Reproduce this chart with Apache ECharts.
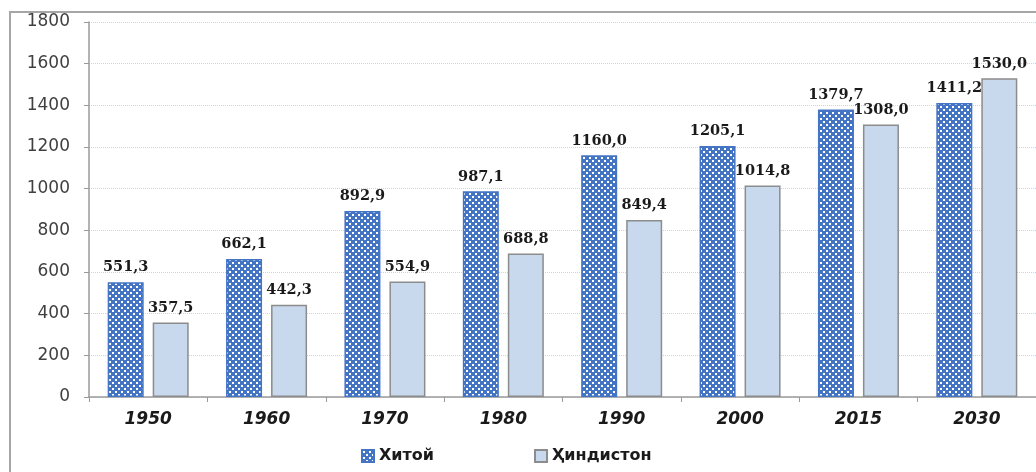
<!DOCTYPE html>
<html><head><meta charset="utf-8">
<script src="https://cdn.jsdelivr.net/npm/echarts@6/dist/echarts.min.js"></script>
<style>html,body{margin:0;padding:0;background:#fff}#c{width:1036px;height:472px}</style>
</head><body><div id="c"></div>
<script>
const categories = ['1950','1960','1970','1980','1990','2000','2015','2030'];
const china = [551.3, 662.1, 892.9, 987.1, 1160.0, 1205.1, 1379.7, 1411.2];
const india = [357.5, 442.3, 554.9, 688.8, 849.4, 1014.8, 1308.0, 1530.0];
const seriesNames = ['Хитой', 'Ҳиндистон'];

const tile = document.createElement('canvas');
tile.width = 6; tile.height = 6;
const g = tile.getContext('2d');
g.fillStyle = '#4474c4'; g.fillRect(0,0,6,6);
g.fillStyle = '#ffffff';
g.fillRect(1,1,2,2); g.fillRect(4,4,2,2);

const fmt = p => p.value.toFixed(1).replace('.', ',');
const lbl = {show:true, position:'top', distance:7, formatter: fmt,
  fontFamily:'DejaVu Serif', fontWeight:'bold', fontSize:14.5, color:'#1a1a1a'};

const chart = echarts.init(document.getElementById('c'), null, {renderer:'canvas'});
chart.setOption({
  animation:false,
  graphic:[{type:'rect', shape:{x:10,y:12,width:1040,height:470}, style:{fill:'none', stroke:'#a6a6a6', lineWidth:2}, silent:true}],
  grid:{left:89, right:-7, top:22, bottom:75},
  legend:{bottom:3, left:356, itemGap:100, itemWidth:12, itemHeight:12,
    textStyle:{fontFamily:'DejaVu Sans', fontWeight:'bold', fontSize:16, color:'#1a1a1a'},
    data:[{name:seriesNames[0], icon:'rect'},{name:seriesNames[1], icon:'rect'}]},
  xAxis:{type:'category', data:categories,
    axisLine:{lineStyle:{color:'#9a9a9a', width:1.5}},
    axisTick:{show:true, length:5, lineStyle:{color:'#9a9a9a'}},
    axisLabel:{margin:14, fontFamily:'DejaVu Sans', fontStyle:'italic', fontWeight:'bold', fontSize:17, color:'#1a1a1a'}},
  yAxis:{type:'value', min:0, max:1800, interval:200,
    axisLine:{show:true, lineStyle:{color:'#9a9a9a', width:1.5}},
    axisTick:{show:true, length:5, lineStyle:{color:'#9a9a9a'}},
    axisLabel:{margin:19, fontFamily:'DejaVu Sans', fontSize:17, color:'#404040', formatter: v => String(v)},
    splitLine:{lineStyle:{color:'#c4d5f0', type:'dotted'}}},
  series:[
    {name:seriesNames[0], type:'bar', data:china, barWidth:36, barGap:'25%',
      itemStyle:{color:{image:tile, repeat:'repeat'}, borderColor:'#4474c4', borderWidth:1.5}, label:lbl},
    {name:seriesNames[1], type:'bar', data:india, barWidth:36,
      itemStyle:{color:'#c8d9ee', borderColor:'#8c8c8c', borderWidth:1.5}, label:lbl}
  ]
});
</script></body></html>
